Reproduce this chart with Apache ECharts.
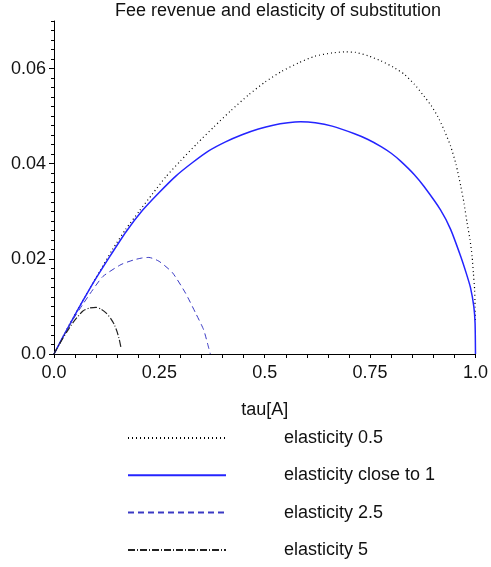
<!DOCTYPE html>
<html>
<head>
<meta charset="utf-8">
<script src="https://cdn.jsdelivr.net/npm/echarts@6/dist/echarts.min.js"></script>
<style>html,body{margin:0;padding:0;background:#fff;}#c{width:491px;height:567px;}</style>
</head>
<body>
<div id="c"></div>
<script>
var titleText = 'Fee revenue and elasticity of substitution';
var xName = 'tau[A]';
var seriesNames = ['elasticity 0.5', 'elasticity close to 1', 'elasticity 2.5', 'elasticity 5'];
var xTickLabels = ['0.0', '0.25', '0.5', '0.75', '1.0'];
var yTickLabels = ['0.0', '0.02', '0.04', '0.06'];

var tau05 = [0, 0.02, 0.044, 0.07, 0.108, 0.139, 0.17, 0.202, 0.234, 0.265, 0.30, 0.34, 0.38, 0.42, 0.462, 0.501, 0.54, 0.58, 0.619, 0.66, 0.69, 0.715, 0.745, 0.776, 0.805, 0.831, 0.855, 0.878, 0.895, 0.910, 0.926, 0.941, 0.954, 0.965, 0.973, 0.980, 0.987, 0.992, 0.995, 0.998, 0.999, 1.0];
var rev05 = [0, 0.0034, 0.0074, 0.0115, 0.0173, 0.0220, 0.0262, 0.0300, 0.0337, 0.0372, 0.0406, 0.0443, 0.0478, 0.0512, 0.0545, 0.0572, 0.0594, 0.0612, 0.0626, 0.0633, 0.0635, 0.0634, 0.0627, 0.0616, 0.0603, 0.0588, 0.0567, 0.0542, 0.0522, 0.0500, 0.0470, 0.0437, 0.0398, 0.0353, 0.0316, 0.0276, 0.0240, 0.0205, 0.0170, 0.0135, 0.0100, 0.0066];

var tau1 = [0, 0.02, 0.044, 0.068, 0.092, 0.131, 0.171, 0.210, 0.249, 0.289, 0.328, 0.367, 0.407, 0.446, 0.485, 0.52, 0.555, 0.585, 0.62, 0.66, 0.713, 0.745, 0.776, 0.80, 0.823, 0.855, 0.878, 0.917, 0.941, 0.965, 0.978, 0.988, 0.996, 0.999, 1.0];
var rev1 = [0, 0.0034, 0.0073, 0.0111, 0.0148, 0.0203, 0.0257, 0.0302, 0.0339, 0.0374, 0.0402, 0.0427, 0.0446, 0.0461, 0.0473, 0.0481, 0.0486, 0.0488, 0.0486, 0.0479, 0.0463, 0.0451, 0.0436, 0.0422, 0.0405, 0.0377, 0.0352, 0.0303, 0.0262, 0.0205, 0.0170, 0.0140, 0.0100, 0.0065, 0];

var tau25 = [0, 0.02, 0.044, 0.068, 0.092, 0.116, 0.159, 0.190, 0.210, 0.225, 0.249, 0.281, 0.312, 0.336, 0.355, 0.367, 0.371];
var rev25 = [0, 0.0033, 0.0071, 0.0104, 0.0135, 0.0163, 0.0188, 0.0198, 0.0202, 0.0203, 0.0195, 0.0171, 0.0128, 0.0086, 0.0051, 0.0013, 0];

var tau5 = [0, 0.013, 0.03, 0.045, 0.068, 0.085, 0.100, 0.112, 0.124, 0.135, 0.143, 0.150, 0.155, 0.159];
var rev5 = [0, 0.0021, 0.0046, 0.0066, 0.0090, 0.0097, 0.0098, 0.0094, 0.0086, 0.0074, 0.0062, 0.0046, 0.0030, 0.0013];

function pairs(xs, ys) { return xs.map(function (x, i) { return [x, ys[i]]; }); }

var fontFam = 'Liberation Sans, Arial, sans-serif';
var chart = echarts.init(document.getElementById('c'));

function xLab(v) {
  var idx = Math.round(v / 0.25);
  return Math.abs(v - idx * 0.25) < 1e-9 ? xTickLabels[idx] : '';
}
function yLab(v) {
  var idx = Math.round(v / 0.02);
  return (Math.abs(v - idx * 0.02) < 1e-9 && idx < yTickLabels.length) ? yTickLabels[idx] : '';
}

var option = {
  animation: false,
  backgroundColor: '#fff',
  title: {
    text: titleText,
    left: 273,
    textAlign: 'center',
    top: -3,
    textStyle: { fontFamily: fontFam, fontSize: 18, fontWeight: 'normal', color: '#111' }
  },
  grid: { left: 54, top: 21, width: 424, height: 333, containLabel: false },
  xAxis: [{
    type: 'value', min: 0, max: 1, interval: 0.05,
    axisLine: { show: true, lineStyle: { color: '#000', width: 1 } },
    axisTick: { show: true, length: 4, lineStyle: { color: '#000' } },
    axisLabel: { show: false },
    splitLine: { show: false }
  }, {
    type: 'value', min: 0, max: 1, interval: 0.25, position: 'bottom',
    axisLine: { show: false },
    axisTick: { show: false },
    axisLabel: { show: true, margin: 10, formatter: xLab, fontFamily: fontFam, fontSize: 18, color: '#111' },
    splitLine: { show: false },
    name: xName, nameLocation: 'middle', nameGap: 47,
    nameTextStyle: { fontFamily: fontFam, fontSize: 18, color: '#111' }
  }],
  yAxis: [{
    type: 'value', min: 0, max: 0.07, interval: 0.002,
    axisLine: { show: true, lineStyle: { color: '#000', width: 1 } },
    axisTick: { show: true, length: 3, lineStyle: { color: '#000' } },
    axisLabel: { show: false },
    splitLine: { show: false }
  }, {
    type: 'value', min: 0, max: 0.07, interval: 0.02, position: 'left',
    axisLine: { show: false },
    axisTick: { show: true, length: 5, lineStyle: { color: '#000' } },
    axisLabel: { show: true, margin: 8, formatter: yLab, showMaxLabel: false, fontFamily: fontFam, fontSize: 18, color: '#111' },
    splitLine: { show: false }
  }],
  legend: {
    orient: 'vertical', left: 127, top: 428, padding: 0, height: 139,
    itemWidth: 98, itemHeight: 20, itemGap: 17.3,
    itemStyle: { opacity: 0 },
    textStyle: { fontFamily: fontFam, fontSize: 18, color: '#111', padding: [0, 0, 0, 53], lineHeight: 20 },
    data: seriesNames
  },
  series: [{
    name: seriesNames[0], type: 'line', xAxisIndex: 0, yAxisIndex: 0,
    data: pairs(tau05, rev05), symbol: 'none', smooth: 0.2,
    lineStyle: { color: '#000', width: 1.2, type: [1, 3] }, itemStyle: { color: '#000' }
  }, {
    name: seriesNames[1], type: 'line', xAxisIndex: 0, yAxisIndex: 0,
    data: pairs(tau1, rev1), symbol: 'none', smooth: 0.2,
    lineStyle: { color: '#2424ff', width: 1.5, type: 'solid' }, itemStyle: { color: '#2424ff' }
  }, {
    name: seriesNames[2], type: 'line', xAxisIndex: 0, yAxisIndex: 0,
    data: pairs(tau25, rev25), symbol: 'none', smooth: 0.2,
    lineStyle: { color: '#3a3ac4', width: 1, type: [6, 4] }, itemStyle: { color: '#3a3ac4' }
  }, {
    name: seriesNames[3], type: 'line', xAxisIndex: 0, yAxisIndex: 0,
    data: pairs(tau5, rev5), symbol: 'none', smooth: 0.2,
    lineStyle: { color: '#222', width: 1.2, type: [7, 2, 1, 2] }, itemStyle: { color: '#222' }
  }]
};
chart.setOption(option);
</script>
</body>
</html>
